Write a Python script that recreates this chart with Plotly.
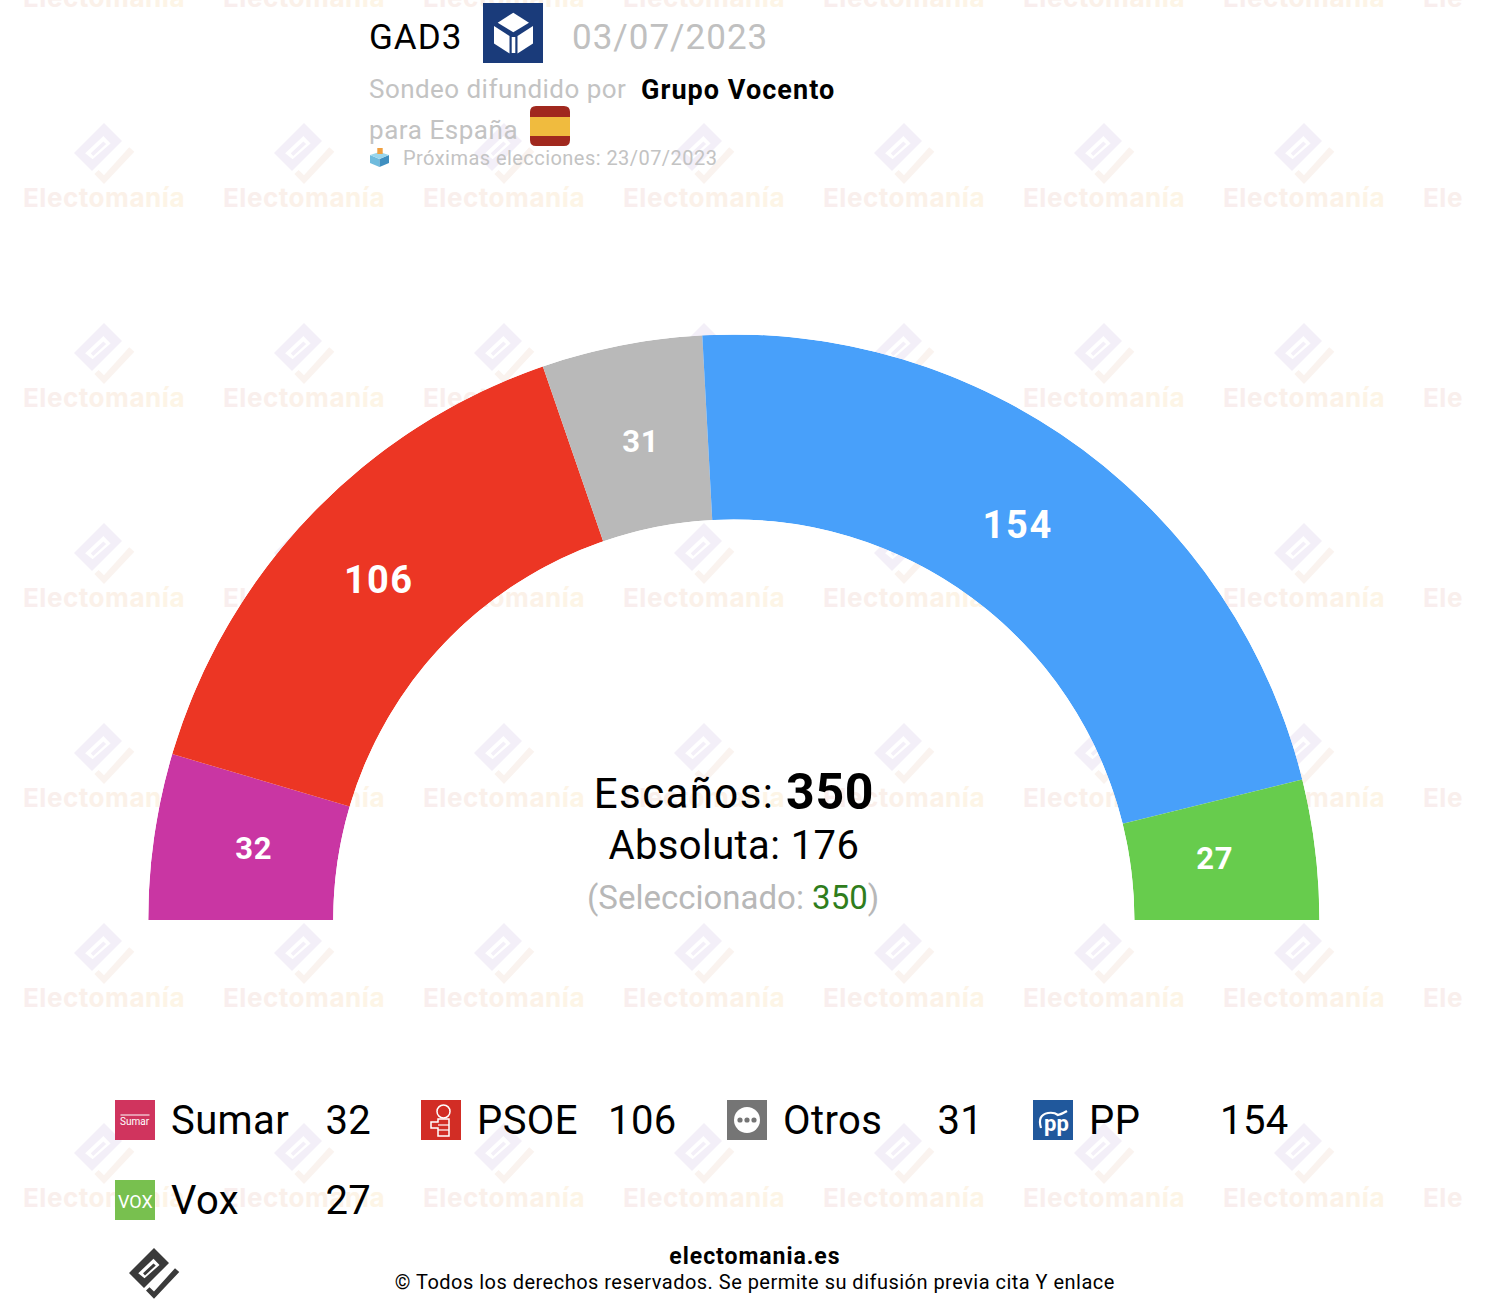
import json
import numpy as np
import plotly.graph_objects as go

# ---------- data ----------
parties = ["Sumar", "PSOE", "Otros", "PP", "Vox"]
seats = [32, 106, 31, 154, 27]
colors = ["#c936a3", "#ec3624", "#b9b9b9", "#48a0fa", "#67cc4d"]
label_shift = [(7, -1), (0, 0), (1, 5), (-10, 1), (-8, -2)]
label_sizes = [31, 38, 31, 38, 31]
label_spacing = [0.7, 1.4, 0.7, 1.6, 0.7]
total_seats = 350
absolute_majority = 176
selected = 350
pollster = "GAD3"
poll_date = "03/07/2023"
sponsor = "Grupo Vocento"
next_election = "23/07/2023"

W, H = 1492, 1310
CX, CY, R_OUT, R_IN = 733.8, 920, 585.6, 400.6
LX, LY, R_MID = 734, 920, 492.5
CLIP_X = 1463

cum = np.cumsum([0] + seats[:-1])
widths = [v * 180 / total_seats for v in seats]
thetas = [180 - (c + v / 2) * 180 / total_seats for c, v in zip(cum, seats)]

fig = go.Figure()

# ---------- watermark text (cartesian: sits under the polar half-ring) ----------
wm_colors = ["#f9eeee", "#f9eeed", "#f9efec", "#faefeb", "#faf0ea", "#fbf1e9",
             "#fbf1e8", "#fcf2e7", "#fcf3e6", "#fdf4e6", "#fdf5e6"]
wm_word = "Electomanía"
wm_text = "".join(f'<span style="color:{c}">{ch}</span>' for ch, c in zip(wm_word, wm_colors))
wm_cols = [104 + 200 * i for i in range(8)]
wm_rows = [0 + 200 * j for j in range(7)]
xs, ys = np.meshgrid(wm_cols, wm_rows)
fig.add_trace(go.Scatter(
    x=xs.ravel(), y=ys.ravel(), mode="text",
    text=[wm_text] * xs.size, textposition="middle center",
    textfont=dict(family="Inter", size=26, color="#faefeb", weight="bold"),
    hoverinfo="skip", showlegend=False, cliponaxis=True,
    xaxis="x", yaxis="y"))

# ---------- half ring ----------
for name, v, c, t, w in zip(parties, seats, colors, thetas, widths):
    fig.add_trace(go.Barpolar(
        r=[1], theta=[t], width=[w], name=name,
        marker=dict(color=c, line=dict(width=0)),
        hovertemplate=f"{name}: {v}<extra></extra>", showlegend=False))

shapes = []


def poly(points, fill=None, line=None, lw=0, layer="above", close=True):
    d = "M" + " L".join(f"{x:.2f},{y:.2f}" for x, y in points) + (" Z" if close else "")
    return dict(type="path", path=d, xref="x", yref="y", layer=layer,
                fillcolor=fill if fill else "rgba(0,0,0,0)",
                line=dict(color=line if line else "rgba(0,0,0,0)", width=lw))


def rect(x0, y0, x1, y1, fill, layer="above"):
    return dict(type="rect", x0=x0, y0=y0, x1=x1, y1=y1, xref="x", yref="y",
                layer=layer, fillcolor=fill, line=dict(width=0))


LOGO_BODY = [(0, -1), (.6, -.4), (-.4, .6), (-1, 0)]
LOGO_HOLE = [(-.63, .01), (-.38, .21), (.22, -.32), (-.02, -.57)]
LOGO_BAR = [(-.44, .01), (-.02, -.38), (.07, -.3), (-.36, .1)]
LOGO_L = [(.84, -.19), (1.01, -.04), (0, 1.03), (-.32, .7), (-.18, .57), (0, .74)]


def logo(cx, cy, s, c_body, c_l, layer):
    def m(pts):
        return [(cx + s * x, cy + s * y) for x, y in pts]
    sub = lambda pts: "M" + " L".join(f"{x:.2f},{y:.2f}" for x, y in m(pts)) + " Z"
    out = [dict(type="path", path=sub(LOGO_BODY) + " " + sub(LOGO_HOLE) + " " + sub(LOGO_BAR),
                xref="x", yref="y", layer=layer, fillcolor=c_body, line=dict(width=0)),
           dict(type="path", path=sub(LOGO_L), xref="x", yref="y", layer=layer,
                fillcolor=c_l, line=dict(width=0))]
    return out


for cy_ in [153 + 200 * j for j in range(6)]:
    for cx_ in wm_cols[:7]:
        shapes += logo(cx_, cy_, 30, "#f3eff8", "#faf3ef", "below")

# bottom dark logo
shapes += logo(154, 1273, 25, "#3a3a3a", "#3a3a3a", "above")

# GAD3 cube icon
shapes.append(rect(483, 3, 543, 63, "#1a3b7a"))
shapes.append(poly([(513.3, 12.7), (529, 22.7), (513.3, 32.3), (497.7, 22.7)], "#ffffff"))
shapes.append(poly([(494, 26), (509.5, 36), (509.5, 53.5), (494, 43.5)], "#ffffff"))
shapes.append(poly([(517.5, 36), (533, 26), (533, 43.5), (517.5, 53.5)], "#ffffff"))
shapes.append(rect(511.7, 37, 515.3, 53, "#ffffff"))

# flag icon
shapes.append(dict(type="path", xref="x", yref="y", layer="above", fillcolor="#a0281e",
                   line=dict(width=0),
                   path="M536,106 L564,106 Q570,106 570,112 L570,140 Q570,146 564,146 "
                        "L536,146 Q530,146 530,140 L530,112 Q530,106 536,106 Z"))
shapes.append(rect(530, 117, 570, 136, "#f0bb3e"))

# ballot box icon
shapes.append(poly([(370, 155), (379.5, 159), (379.5, 167), (370, 163)], "#6fbbdd"))
shapes.append(poly([(389, 155), (379.5, 159), (379.5, 167), (389, 163)], "#3f8fc0"))
shapes.append(poly([(370, 155), (379.5, 152), (389, 155), (379.5, 159)], "#9ad6ec"))
shapes.append(rect(377.3, 148, 382.7, 154, "#f0a040"))

# legend icon squares
ICON_X = [115, 421, 727, 1033, 115]
ICON_Y = [1100, 1100, 1100, 1100, 1180]
icon_colors = ["#d0345e", "#d22d25", "#757575", "#20589c", "#78c04f"]
for x, y, c in zip(ICON_X, ICON_Y, icon_colors):
    shapes.append(rect(x, y, x + 40, y + 40, c))

# Sumar bar
shapes.append(dict(type="line", x0=120.5, x1=149.5, y0=1115, y1=1115, xref="x", yref="y",
                   layer="above", line=dict(color="#ffffff", width=1)))
# PSOE rose and fist
shapes.append(dict(type="circle", x0=437, y0=1105, x1=450, y1=1118, xref="x", yref="y",
                   layer="above", line=dict(color="#ffffff", width=1.5), fillcolor="rgba(0,0,0,0)"))
shapes.append(poly([(438, 1119), (449, 1119), (449, 1136), (438, 1136), (438, 1128), (431, 1128),
                    (431, 1122), (438, 1122)], None, "#ffffff", 1.5))
shapes.append(poly([(438, 1125), (449, 1125)], None, "#ffffff", 1.2, close=False))
shapes.append(poly([(438, 1130), (449, 1130)], None, "#ffffff", 1.2, close=False))
# Otros bubble
shapes.append(dict(type="circle", x0=734, y0=1107, x1=760, y1=1133, xref="x", yref="y",
                   layer="above", fillcolor="#ffffff", line=dict(width=0)))
for dx in (-7, 0, 7):
    shapes.append(dict(type="circle", x0=747 + dx - 2.6, y0=1120 - 2.6, x1=747 + dx + 2.6, y1=1120 + 2.6,
                       xref="x", yref="y", layer="above", fillcolor="#757575", line=dict(width=0)))
# PP swoosh
shapes.append(dict(type="path", xref="x", yref="y", layer="above", fillcolor="rgba(0,0,0,0)",
                   line=dict(color="#ffffff", width=2.2),
                   path="M1041,1128 Q1037,1115 1048,1113 Q1054,1112 1058,1115 Q1062,1114 1067,1111"))

annots = []
spacing = []


def label(x, y, text, size, color="#000000", anchor="center", bold=False, xshift=0, yshift=0, ls=0):
    annots.append(dict(
        x=x, y=y, xref="x", yref="y", text=text, showarrow=False, align=anchor,
        xanchor=anchor, yanchor="middle", xshift=xshift, yshift=yshift, borderpad=0,
        font=dict(family="Roboto", size=size, color=color, weight="bold" if bold else "normal")))
    spacing.append(ls)


# ring labels (placed from each slice's mid-angle)
for v, t, (dx, dy), sz, ls in zip(seats, thetas, label_shift, label_sizes, label_spacing):
    a = np.deg2rad(t)
    label(LX + R_MID * np.cos(a), LY - R_MID * np.sin(a), str(v), sz, "#ffffff", bold=True,
          xshift=dx, yshift=-dy, ls=ls)

# header
GREY = "#c3c3c3"
label(368, 37, pollster, 35, anchor="left", ls=1)
label(571, 37, poll_date, 35, "#c0c0c0", anchor="left", ls=1)
label(368, 88.5, "Sondeo difundido por", 26, GREY, anchor="left", ls=0.45)
label(640, 90, sponsor, 27, anchor="left", bold=True, ls=1.05)
label(368, 129.5, "para España", 26, GREY, anchor="left", ls=0.55)
label(402, 157.5, f"Próximas elecciones: {next_election}", 20, GREY, anchor="left", ls=0.45)

# centre text
label(775, 793, "Escaños:", 42, anchor="right", ls=1.4)
label(785, 792, str(total_seats), 50, anchor="left", bold=True, ls=0.7)
label(734, 845, f"Absoluta: {absolute_majority}", 40, ls=0.4)
label(733, 897, f'<span style="color:#b8b8b8">(Seleccionado: </span>'
                f'<span style="color:#2f7d1c">{selected}</span>'
                f'<span style="color:#b8b8b8">)</span>', 33)

# legend
for name, v, x, y in zip(parties, seats, ICON_X, ICON_Y):
    label(x + 55, y + 20, name, 40, anchor="left", ls=0.4)
    label(x + (257 if v < 100 else 256), y + 20, str(v), 40, anchor="right", ls=0.3)

# icon texts
label(135, 1121, "Sumar", 10, "#ffffff")
label(135, 1201, "VOX", 18, "#ffffff")
label(1056, 1123, "pp", 22, "#ffffff", bold=True)

# footer
label(755, 1256, "electomania.es", 23, bold=True, ls=0.95)
label(755, 1282, "© Todos los derechos reservados. Se permite su difusión previa cita Y enlace", 20, ls=0.48)

fig.update_layout(
    width=W, height=H, autosize=False,
    margin=dict(l=0, r=0, t=0, b=0, pad=0),
    paper_bgcolor="#ffffff", plot_bgcolor="rgba(0,0,0,0)",
    showlegend=False, hovermode="closest",
    font=dict(family="Roboto"),
    xaxis=dict(domain=[0, CLIP_X / W], range=[0, CLIP_X], visible=False, fixedrange=True),
    yaxis=dict(domain=[0, 1], range=[H, 0], visible=False, fixedrange=True),
    polar=dict(
        domain=dict(x=[(CX - R_OUT) / W, (CX + R_OUT) / W],
                    y=[1 - CY / H, 1 - (CY - R_OUT) / H]),
        sector=[0, 180], hole=R_IN / R_OUT, bgcolor="rgba(0,0,0,0)",
        radialaxis=dict(range=[0, 1], visible=False, showgrid=False),
        angularaxis=dict(visible=False, showgrid=False, rotation=0, direction="counterclockwise"),
        barmode="overlay",
    ),
    shapes=shapes, annotations=annots,
)

post = ("document.body.style.margin='0';document.body.style.overflow='hidden';"
        "var LS=" + json.dumps(spacing) + ";"
        "function applyLS(){LS.forEach(function(v,i){if(!v)return;"
        "document.querySelectorAll('.annotation[data-index=\"'+i+'\"] text').forEach("
        "function(t){t.style.letterSpacing=v+'px';});});"
        "document.querySelectorAll('.textpoint text').forEach(function(t){t.style.letterSpacing='0.55px';});}"
        "applyLS();setTimeout(applyLS,0);setTimeout(applyLS,100);"
        "var gdEl=document.getElementById('{plot_id}');if(gdEl&&gdEl.on){gdEl.on('plotly_afterplot',applyLS);}")
fig.write_html("out.html", config={"displayModeBar": False, "responsive": False}, post_script=post)
